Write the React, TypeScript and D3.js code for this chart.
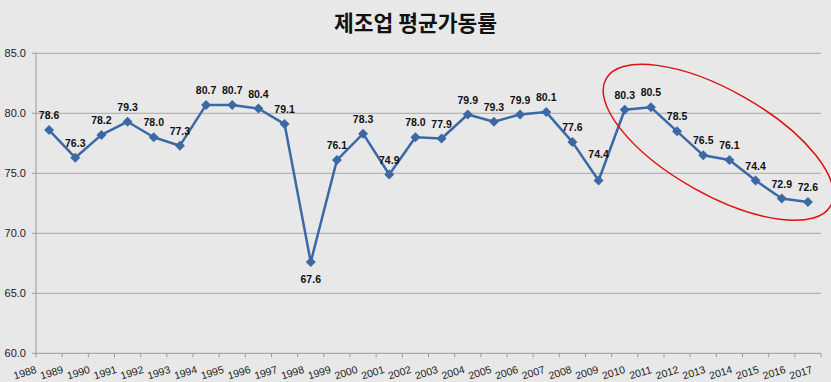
import React from "react";
import * as d3 from "d3";

const years: string[] = [
  "1988","1989","1990","1991","1992","1993","1994","1995","1996","1997",
  "1998","1999","2000","2001","2002","2003","2004","2005","2006","2007",
  "2008","2009","2010","2011","2012","2013","2014","2015","2016","2017",
];
const rates: number[] = [
  78.6, 76.3, 78.2, 79.3, 78.0, 77.3, 80.7, 80.7, 80.4, 79.1,
  67.6, 76.1, 78.3, 74.9, 78.0, 77.9, 79.9, 79.3, 79.9, 80.1,
  77.6, 74.4, 80.3, 80.5, 78.5, 76.5, 76.1, 74.4, 72.9, 72.6,
];
const yTicks: number[] = [60, 65, 70, 75, 80, 85];
const title = "제조업 평균가동률";

const W = 831;
const H = 382;
const left = 36;
const right = 821;
const top = 53.3;
const bottom = 353.3;

export default function App() {
  const x = d3.scaleBand<string>().domain(years).range([left, right]).padding(0);
  const y = d3.scaleLinear().domain([60, 85]).range([bottom, top]);
  const xLabel = d3.scalePoint<string>().domain(years).range([26, 802]);
  const cx = (d: string) => (x(d) as number) + x.bandwidth() / 2;

  const line = d3
    .line<number>()
    .x((_, i) => cx(years[i]))
    .y((v) => y(v));

  const blue = "#3b69a6";
  const fontLat = "'Liberation Sans', Arial, sans-serif";

  // red highlight ellipse around 2010-2017
  const eStart = cx("2010");
  const eEnd = cx("2017");
  const ecx = (eStart + eEnd) / 2 + 2;
  const ecy = (y(80.4) + y(72.6)) / 2 - 13;

  return (
    <svg width={W} height={H} style={{ display: "block", position: "absolute", left: 0, top: 0 }}>
      <rect x={0} y={0} width={W} height={H} fill="#e8e8e8" />
      <text
        x={415.5}
        y={31}
        textAnchor="middle"
        fontFamily="'Noto Sans CJK KR', sans-serif"
        fontWeight={700}
        fontSize={21.5}
        fill="#111"
      >
        {title}
      </text>

      {/* gridlines */}
      {yTicks.map((t) => (
        <line
          key={"g" + t}
          x1={left}
          x2={right}
          y1={y(t)}
          y2={y(t)}
          stroke={t === 60 ? "#9a9a9a" : "#a8a8a8"}
          strokeWidth={1}
        />
      ))}
      {/* y axis */}
      <line x1={left} x2={left} y1={top} y2={bottom} stroke="#9a9a9a" strokeWidth={1} />
      {yTicks.map((t) => (
        <g key={"yt" + t}>
          <line x1={left - 4} x2={left} y1={y(t)} y2={y(t)} stroke="#9a9a9a" />
          <text
            x={26}
            y={y(t) + 4}
            textAnchor="end"
            fontFamily={fontLat}
            fontSize={11}
            fill="#222"
          >
            {t.toFixed(1)}
          </text>
        </g>
      ))}
      {/* x ticks */}
      {[...years.map((d) => x(d) as number), right].map((px, i) => (
        <line key={"xt" + i} x1={px} x2={px} y1={bottom} y2={bottom + 4} stroke="#9a9a9a" />
      ))}
      {years.map((d) => (
        <text
          key={"xl" + d}
          transform={`translate(${xLabel(d)},${376}) rotate(-17)`}
          textAnchor="middle"
          fontFamily={fontLat}
          fontSize={10.5}
          fill="#222"
        >
          {d}
        </text>
      ))}

      {/* series */}
      <path d={line(rates) || ""} fill="none" stroke={blue} strokeWidth={2.5} strokeLinejoin="round" />
      {rates.map((v, i) => {
        const px = cx(years[i]);
        const py = y(v);
        const s = 5;
        return (
          <path
            key={"m" + i}
            d={`M${px},${py - s}L${px + s},${py}L${px},${py + s}L${px - s},${py}Z`}
            fill={blue}
          />
        );
      })}
      {rates.map((v, i) => {
        const px = cx(years[i]);
        const py = y(v);
        const isMin = v === d3.min(rates);
        const isDip = years[i] === "2009";
        const ty = isMin ? py + 21 : isDip ? py - 23 : py - 11;
        return (
          <text
            key={"l" + i}
            x={px}
            y={ty}
            textAnchor="middle"
            fontFamily={fontLat}
            fontWeight={700}
            fontSize={10.5}
            fill="#111"
          >
            {v.toFixed(1)}
          </text>
        );
      })}

      <ellipse
        cx={ecx}
        cy={ecy}
        rx={129}
        ry={52}
        transform={`rotate(29.5 ${ecx} ${ecy})`}
        fill="none"
        stroke="#e01010"
        strokeWidth={1.5}
      />
    </svg>
  );
}
